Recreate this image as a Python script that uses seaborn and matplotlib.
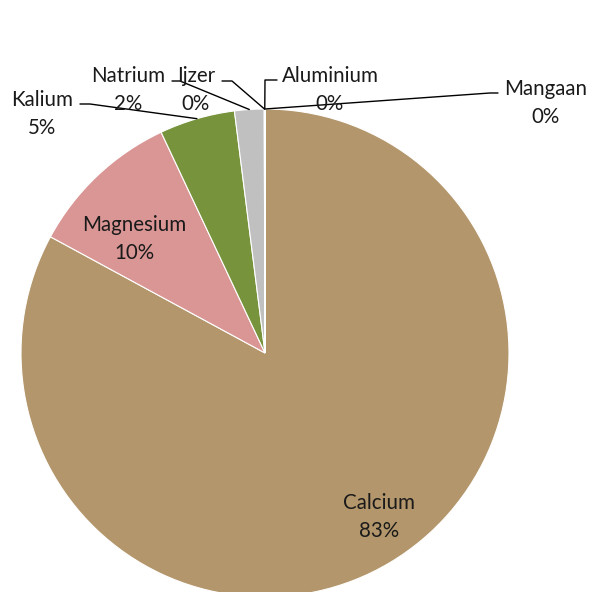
import matplotlib
matplotlib.use("Agg")
import matplotlib.pyplot as plt
import seaborn as sns
import numpy as np

sns.set_theme(style="white")
plt.rcParams['font.family'] = ['Lato', 'DejaVu Sans']

labels = ["Calcium", "Magnesium", "Kalium", "Natrium", "Ijzer", "Aluminium", "Mangaan"]
values = [82.9, 10.1, 5.0, 1.95, 0.03, 0.01, 0.01]
colors = ["#B3966B", "#D99694", "#77933C", "#C0C0C0", "#4F81BD", "#8064A2", "#F79646"]

W = H = 592
fig = plt.figure(figsize=(W / 100, H / 100), dpi=100)
cx, cy, R = 265, 353, 244
ax = fig.add_axes([(cx - R) / W, 1 - (cy + R) / H, 2 * R / W, 2 * R / H])

wedges, _ = ax.pie(values, colors=colors, startangle=90, counterclock=False,
                   radius=1, wedgeprops=dict(edgecolor="white", linewidth=0.8))
ax.set_xlim(-1, 1)
ax.set_ylim(-1, 1)
ax.set_aspect("equal")
ax.axis("off")

def px(x, y):
    return ((x - cx) / R, (cy - y) / R)

total = sum(values)
pct = [f"{v / total * 100:.0f}%" for v in values]
fs = 14.8

label_pos = {
    "Calcium": (379, 517),
    "Magnesium": (134, 239),
    "Kalium": (42, 114),
    "Natrium": (128, 90),
    "Ijzer": (196, 90),
    "Aluminium": (330, 90),
    "Mangaan": (546, 103),
}
leaders = {
    "Kalium": [(80, 104), (90, 104)],
    "Natrium": [(172, 81), (180, 81)],
    "Ijzer": [(222, 81), (232, 81)],
    "Aluminium": [(277, 80), (265, 80)],
    "Mangaan": [(498, 93), (490, 93)],
}

for i, (w, lab) in enumerate(zip(wedges, labels)):
    x, y = px(*label_pos[lab])
    ax.text(x, y, f"{lab}\n{pct[i]}", ha="center", va="center", fontsize=fs,
            color="#1a1a1a", linespacing=1.5)
    if lab in leaders:
        ang = np.deg2rad((w.theta1 + w.theta2) / 2)
        ax_, ay_ = np.cos(ang), np.sin(ang)
        pts = [px(*p) for p in leaders[lab]] + [(ax_, ay_)]
        xs, ys = zip(*pts)
        ax.plot(xs, ys, color="black", linewidth=1.0, clip_on=False)

fig.savefig("out.png", dpi=100)
